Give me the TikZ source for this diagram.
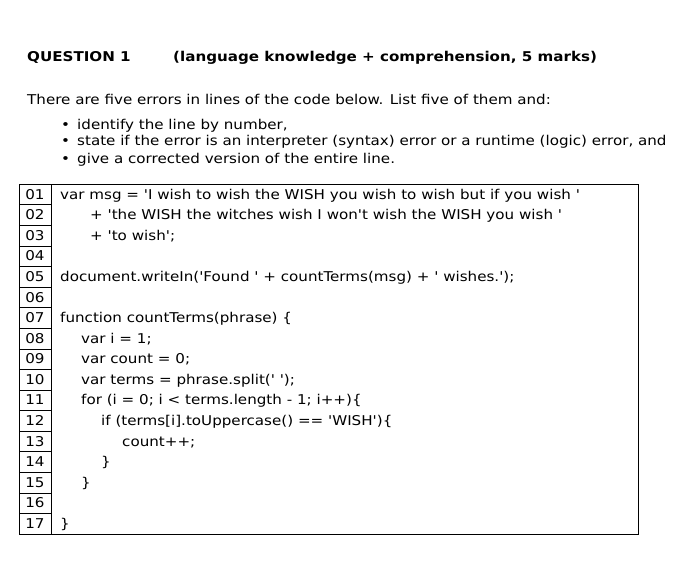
\documentclass[tikz,border=0pt]{standalone}
\usepackage{fontspec}
\setmainfont{DejaVu Sans}[Ligatures=TeXOff,FakeStretch=1.12]
\begin{document}
\begin{tikzpicture}[x=1pt,y=-1pt,
  txt/.style={anchor=base west,inner sep=0pt,font=\fontsize{13.5}{15}\selectfont},
  hd/.style={txt,font=\fontsize{13.5}{15}\selectfont\bfseries},
  num/.style={anchor=base,inner sep=0pt,font=\fontsize{13.5}{15}\selectfont}]
\useasboundingbox (0,0) rectangle (693,575);
\node[hd] (q) at (27,62) {QUESTION 1};
\node[hd] (q2) at (173,62) {(language knowledge + comprehension, 5 marks)};
\node[txt] (p) at (27,105) {There are five errors in lines of the code below. List five of them and:};
\foreach \y/\t [count=\i] in {129/{identify the line by number,}, 146/{state if the error is an interpreter (syntax) error or a runtime (logic) error, and}, 164/{give a corrected version of the entire line.}}{
  \node[txt] (b\i) at (61,\y) {•};
  \node[txt] (t\i) at (77,\y) {\t};
}
\draw (19,184) rectangle (638,534);
\draw (51,184) -- (51,534);
\foreach \i in {1,...,16}{ \draw (19,{184+\i*350/17}) -- (51,{184+\i*350/17}); }
\foreach \i in {1,...,17}{
  \node[num] (n\i) at (35,{184+\i*350/17-5.5}) {\ifnum\i<10 0\fi\i};
}
\def\row#1{(184+#1*350/17-5.5)}
\node[txt] (c1) at (60,{\row{1}}) {var msg = 'I wish to wish the WISH you wish to wish but if you wish '};
\node[txt] (c2) at (90,{\row{2}}) {+ 'the WISH the witches wish I won't wish the WISH you wish '};
\node[txt] (c3) at (90,{\row{3}}) {+ 'to wish';};
\node[txt] (c5) at (60,{\row{5}}) {document.writeIn('Found ' + countTerms(msg) + ' wishes.');};
\node[txt] (c7) at (60,{\row{7}}) {function countTerms(phrase) \{};
\node[txt] (c8) at (81,{\row{8}}) {var i = 1;};
\node[txt] (c9) at (81,{\row{9}}) {var count = 0;};
\node[txt] (c10) at (81,{\row{10}}) {var terms = phrase.split(' ');};
\node[txt] (c11) at (81,{\row{11}}) {for (i = 0; i < terms.length - 1; i++)\{};
\node[txt] (c12) at (101,{\row{12}}) {if (terms[i].toUppercase() == 'WISH')\{};
\node[txt] (c13) at (122,{\row{13}}) {count++;};
\node[txt] (c14) at (101,{\row{14}}) {\}};
\node[txt] (c15) at (81,{\row{15}}) {\}};
\node[txt] (c17) at (60,{\row{17}}) {\}};
\end{tikzpicture}
\end{document}
